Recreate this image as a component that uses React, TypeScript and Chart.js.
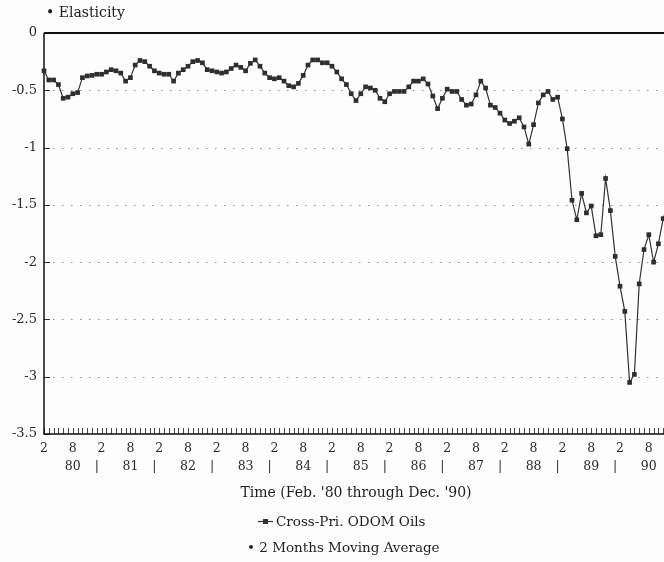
import { useEffect, useRef } from 'react';
import { Chart, registerables } from 'chart.js';

Chart.register(...registerables);

// ---- data ----
const years: string[] = ['80', '81', '82', '83', '84', '85', '86', '87', '88', '89', '90'];
const monthNumbers: number[] = [1, 2, 3, 4, 5, 6, 7, 8, 9, 10, 11, 12];

// Feb '80 .. Dec '90 (131 months)
const categories: { year: string; month: number }[] = [];
years.forEach((yr, yi) => {
  monthNumbers.forEach((m) => {
    if (yi === 0 && m === 1) return;
    categories.push({ year: yr, month: m });
  });
});
const labels: string[] = categories.map((c) => `${c.month}/${c.year}`);

const crossPriceElasticity: number[] = [
  -0.33, -0.41, -0.41, -0.45, -0.57, -0.56, -0.53, -0.52, -0.39, -0.375, -0.37, // 1980 Feb-Dec
  -0.36, -0.36, -0.34, -0.32, -0.33, -0.35, -0.42, -0.39, -0.28, -0.24, -0.25, -0.29, // 1981
  -0.33, -0.35, -0.36, -0.36, -0.42, -0.35, -0.32, -0.29, -0.25, -0.24, -0.26, -0.32, // 1982
  -0.33, -0.34, -0.35, -0.34, -0.31, -0.28, -0.30, -0.33, -0.265, -0.235, -0.29, -0.35, // 1983
  -0.39, -0.40, -0.39, -0.42, -0.46, -0.47, -0.44, -0.37, -0.28, -0.235, -0.235, -0.26, // 1984
  -0.26, -0.29, -0.34, -0.40, -0.45, -0.53, -0.59, -0.53, -0.47, -0.48, -0.50, -0.57, // 1985
  -0.60, -0.53, -0.51, -0.51, -0.51, -0.47, -0.42, -0.42, -0.40, -0.445, -0.55, -0.66, // 1986
  -0.57, -0.49, -0.51, -0.51, -0.58, -0.63, -0.62, -0.54, -0.42, -0.48, -0.63, -0.65, // 1987
  -0.70, -0.76, -0.79, -0.77, -0.74, -0.82, -0.97, -0.80, -0.61, -0.54, -0.51, -0.58, // 1988
  -0.56, -0.75, -1.01, -1.46, -1.63, -1.40, -1.57, -1.51, -1.77, -1.76, -1.27, -1.55, // 1989
  -1.95, -2.21, -2.43, -3.05, -2.98, -2.19, -1.89, -1.76, -2.00, -1.84, -1.62, -1.50, // 1990
];

const yTickValues: number[] = [0, -0.5, -1, -1.5, -2, -2.5, -3, -3.5];
const labelledMonths: number[] = [2, 8];
const separatorMonth = 1;

const yTitle = '\u2022 Elasticity';
const xTitle = "Time (Feb. '80 through Dec. '90)";
const seriesName = 'Cross-Pri. ODOM Oils';
const secondLegend = '\u2022 2 Months Moving Average';

const FONT = '"DejaVu Serif", "Liberation Serif", serif';
const INK = '#1e1e1e';

const decor = {
  id: 'decor',
  beforeDatasetsDraw(chart: any) {
    const { ctx, chartArea: a, scales } = chart;
    const x = scales.x;
    const y = scales.y;
    ctx.save();
    // dotted grid lines
    ctx.strokeStyle = '#8c8c8c';
    ctx.lineWidth = 1;
    ctx.setLineDash([1.5, 7.5]);
    yTickValues.forEach((v) => {
      if (v === 0 || v === -3.5) return;
      const py = Math.round(y.getPixelForValue(v)) + 0.5;
      ctx.beginPath();
      ctx.moveTo(a.left + 9, py);
      ctx.lineTo(a.right, py);
      ctx.stroke();
    });
    ctx.setLineDash([]);
    // inner ticks on the value axis
    ctx.strokeStyle = '#333';
    yTickValues.forEach((v) => {
      const py = Math.round(y.getPixelForValue(v)) + 0.5;
      ctx.beginPath();
      ctx.moveTo(a.left, py);
      ctx.lineTo(a.left + 6, py);
      ctx.stroke();
    });
    // monthly ticks on the time axis
    ctx.strokeStyle = '#444';
    for (let i = 0; i < labels.length; i++) {
      const px = Math.round(x.getPixelForValue(i)) + 0.5;
      ctx.beginPath();
      ctx.moveTo(px, a.bottom);
      ctx.lineTo(px, a.bottom - 6);
      ctx.stroke();
    }
    // frame
    ctx.strokeStyle = '#111';
    ctx.lineWidth = 2;
    ctx.beginPath();
    ctx.moveTo(a.left, a.top);
    ctx.lineTo(a.right, a.top);
    ctx.stroke();
    ctx.lineWidth = 1.5;
    ctx.beginPath();
    ctx.moveTo(a.left, a.top);
    ctx.lineTo(a.left, a.bottom);
    ctx.lineTo(a.right, a.bottom);
    ctx.stroke();
    ctx.restore();
  },
  afterDraw(chart: any) {
    const { ctx, chartArea: a } = chart;
    ctx.save();
    ctx.fillStyle = INK;
    ctx.textBaseline = 'middle';
    ctx.textAlign = 'left';
    ctx.font = `14px ${FONT}`;
    ctx.fillText(yTitle, 46, 13);
    ctx.textAlign = 'center';
    ctx.fillText(xTitle, (a.left + a.right) / 2, 493);
    // legend
    ctx.strokeStyle = '#333';
    ctx.lineWidth = 1.2;
    ctx.beginPath();
    ctx.moveTo(258, 521.5);
    ctx.lineTo(273, 521.5);
    ctx.stroke();
    ctx.fillStyle = '#333';
    ctx.fillRect(263, 519, 5, 5);
    ctx.fillStyle = INK;
    ctx.textAlign = 'left';
    ctx.font = `13.5px ${FONT}`;
    ctx.fillText(seriesName, 276, 522);
    ctx.fillText(secondLegend, 247, 548);
    ctx.restore();
  },
};

export default function App() {
  const ref = useRef<HTMLCanvasElement | null>(null);

  useEffect(() => {
    if (!ref.current) return;
    const chart = new Chart(ref.current, {
      type: 'line',
      data: {
        labels,
        datasets: [
          {
            label: seriesName,
            data: crossPriceElasticity,
            borderColor: '#333',
            backgroundColor: '#333',
            borderWidth: 1.2,
            pointStyle: 'rect',
            pointRadius: 3.3,
            pointBorderWidth: 0,
            pointBackgroundColor: '#2e2e2e',
            tension: 0,
            clip: 10,
          } as any,
        ],
      },
      options: {
        animation: false,
        responsive: false,
        devicePixelRatio: 1,
        layout: { padding: { left: 0, right: 12, top: 33, bottom: 0 } },
        plugins: {
          legend: { display: false },
          tooltip: { enabled: false },
          title: { display: false },
        },
        scales: {
          x: {
            type: 'category',
            offset: false,
            grid: { display: false, drawTicks: false },
            border: { display: false },
            afterFit: (s: any) => {
              s.height = 128;
            },
            ticks: {
              autoSkip: false,
              maxRotation: 0,
              minRotation: 0,
              padding: 6,
              color: '#2a2a2a',
              font: { family: FONT, size: 12.5, lineHeight: 1.4 },
              callback: (_v: any, index: number) => {
                const c = categories[index];
                if (!c) return '';
                if (c.month === labelledMonths[0]) return String(c.month);
                if (c.month === labelledMonths[1]) return [String(c.month), c.year];
                if (c.month === separatorMonth) return ['', '|'];
                return '';
              },
            },
          },
          y: {
            type: 'linear',
            min: -3.5,
            max: 0,
            grid: { display: false, drawTicks: false },
            border: { display: false },
            afterFit: (s: any) => {
              s.width = 44;
            },
            afterBuildTicks: (s: any) => {
              s.ticks = yTickValues.map((v) => ({ value: v }));
            },
            ticks: {
              padding: 7,
              color: '#2a2a2a',
              font: { family: FONT, size: 13 },
              callback: (v: any) => String(v),
            },
          },
        },
      },
      plugins: [decor],
    });
    return () => chart.destroy();
  }, []);

  return (
    <div
      style={{
        position: 'fixed',
        left: 0,
        top: 0,
        width: 664,
        height: 562,
        overflow: 'hidden',
        background: '#fdfdfd',
      }}
    >
      <canvas ref={ref} width={680} height={562} style={{ display: 'block' }} />
    </div>
  );
}
